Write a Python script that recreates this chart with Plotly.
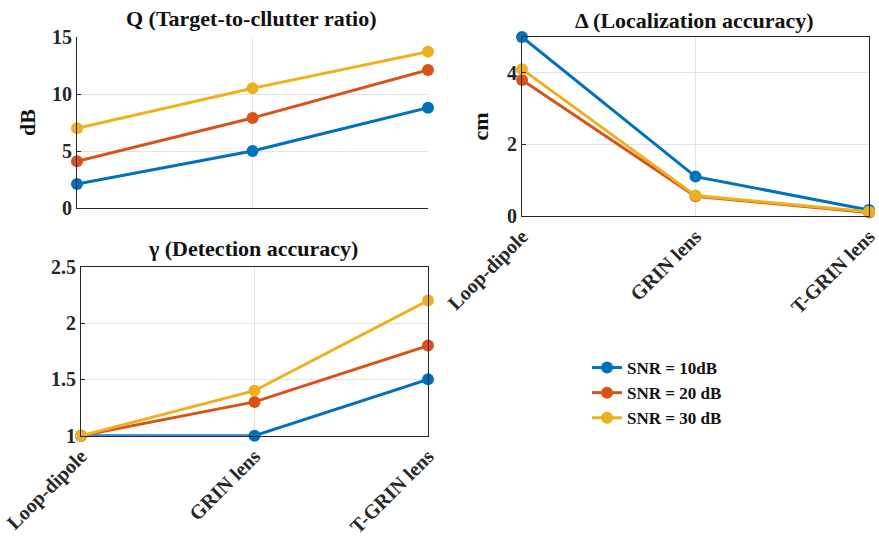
import plotly.graph_objects as go

categories = ["Loop-dipole", "GRIN lens", "T-GRIN lens"]
series_names = ["SNR = 10dB", "SNR = 20 dB", "SNR = 30 dB"]
colors = ["#0072BD", "#D95319", "#EDB120"]

q_values = [
    [2.1, 5.0, 8.8],
    [4.1, 7.9, 12.1],
    [7.0, 10.5, 13.7],
]
delta_values = [
    [5.0, 1.1, 0.17],
    [3.8, 0.55, 0.1],
    [4.1, 0.57, 0.12],
]
gamma_values = [
    [1.0, 1.0, 1.5],
    [1.0, 1.3, 1.8],
    [1.0, 1.4, 2.2],
]

W, H = 879, 536
FONT = "Liberation Serif"

fig = go.Figure()
panels = [("x", "y", q_values, True), ("x2", "y2", delta_values, False), ("x3", "y3", gamma_values, False)]
for xa, ya, vals, show in panels:
    for i, name in enumerate(series_names):
        fig.add_trace(go.Scatter(
            x=categories, y=vals[i], xaxis=xa, yaxis=ya, name=name,
            mode="lines+markers", showlegend=show,
            line=dict(color=colors[i], width=3),
            marker=dict(color=colors[i], size=12),
            cliponaxis=False,
        ))

def px_x(a, b):
    return [a / W, b / W]

def px_y(top, bottom):
    return [1 - bottom / H, 1 - top / H]

tickfont = dict(family=FONT, size=20, color="#262626", weight="bold")
axtitle_font = dict(family=FONT, size=22, color="#111", weight="bold")
common_x = dict(type="category", range=[0, 2], showgrid=True, gridcolor="#e3e3e3",
                showline=True, linecolor="#262626", linewidth=1, ticks="",
                tickangle=-45, tickfont=tickfont, zeroline=False, automargin=False)
common_y = dict(showgrid=True, gridcolor="#e3e3e3", showline=True, linecolor="#262626",
                linewidth=1, ticks="inside", ticklen=4, tickcolor="#262626",
                tickfont=tickfont, zeroline=False, automargin=False)

fig.update_layout(
    width=W, height=H, margin=dict(l=0, r=0, t=0, b=0, autoexpand=False),
    paper_bgcolor="white", plot_bgcolor="white",
    font=dict(family=FONT, color="#262626"),
    xaxis=dict(common_x, domain=px_x(77, 428), anchor="y", showticklabels=False),
    yaxis=dict(common_y, domain=px_y(37, 208), anchor="x", range=[0, 15], tickvals=[0, 5, 10, 15],
               title=dict(text="dB", font=axtitle_font, standoff=10)),
    xaxis2=dict(common_x, domain=px_x(522, 869), anchor="y2", mirror=True),
    yaxis2=dict(common_y, domain=px_y(37, 216), anchor="x2", range=[0, 5], tickvals=[0, 2, 4], mirror=True,
                title=dict(text="cm", font=axtitle_font, standoff=12)),
    xaxis3=dict(common_x, domain=px_x(81, 428), anchor="y3", mirror=True),
    yaxis3=dict(common_y, domain=px_y(266.7, 435.7), anchor="x3", range=[1, 2.5],
                tickvals=[1, 1.5, 2, 2.5], ticktext=["1", "1.5", "2", "2.5"], mirror=True),
    legend=dict(x=587 / W, y=1 - 350 / H, xanchor="left", yanchor="top",
                font=dict(family=FONT, size=17, color="#111", weight="bold"),
                bgcolor="rgba(0,0,0,0)", tracegroupgap=0),
)

titles = [
    ("Q (Target-to-cllutter ratio)", 251, 18),
    ("Δ (Localization accuracy)", 694, 20),
    ("γ (Detection accuracy)", 253, 248),
]
for text, cx, cy in titles:
    fig.add_annotation(text=text, x=cx / W, y=1 - cy / H, xref="paper", yref="paper",
                       showarrow=False, xanchor="center", yanchor="middle",
                       font=dict(family=FONT, size=22, color="#111", weight="bold"))

fig.write_html("out.html")
